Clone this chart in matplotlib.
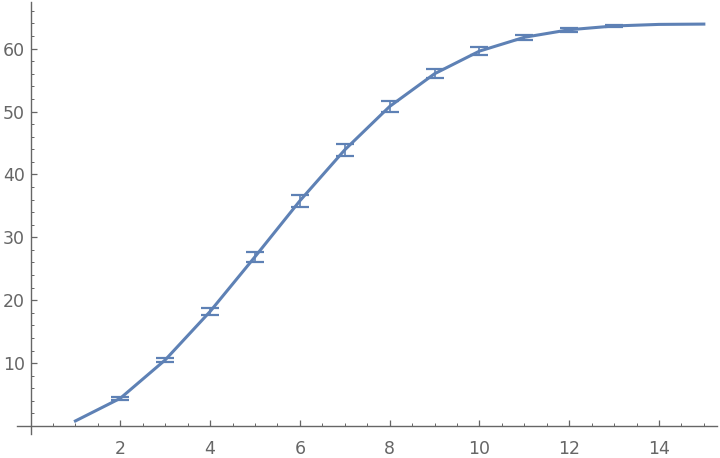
import numpy as np
import matplotlib.pyplot as plt

# values
x = [1, 2, 3, 4, 5, 6, 7, 8, 9, 10, 11, 12, 13, 14, 15]
y = [0.8, 4.4, 10.5, 18.2, 26.9, 35.8, 43.9, 50.8, 56.0, 59.6, 61.8, 63.0, 63.6, 63.85, 63.9]
err = [0, 0.2, 0.37, 0.6, 0.8, 1.0, 1.0, 0.9, 0.7, 0.58, 0.42, 0.3, 0.13, 0, 0]
xticks = [2, 4, 6, 8, 10, 12, 14]
yticks = [10, 20, 30, 40, 50, 60]

blue = '#5E81B5'
grey = '#666666'

fig = plt.figure(figsize=(7.2, 4.58), dpi=100)
ax = fig.add_axes([0, 0, 1, 1])

ax.plot(x, y, color=blue, lw=2.2, zorder=3)
# error bars only where they are visible
ex = [a for a, e in zip(x, err) if e > 0]
ey = [b for b, e in zip(y, err) if e > 0]
ee = [e for e in err if e > 0]
ax.errorbar(ex, ey, yerr=ee, fmt='none', ecolor=blue, elinewidth=1.2,
            capsize=6.5, capthick=1.6, zorder=3)

ax.set_xlim(-0.68, 15.36)
ax.set_ylim(-5.09, 67.73)

for s in ['top', 'right']:
    ax.spines[s].set_visible(False)
ax.spines['bottom'].set_position(('data', 0))
ax.spines['left'].set_position(('data', 0))
ax.spines['bottom'].set_bounds(-0.3, 15.29)
ax.spines['left'].set_bounds(-1.3, 67.4)
for s in ['bottom', 'left']:
    ax.spines[s].set_color(grey)
    ax.spines[s].set_linewidth(1.0)

ax.set_xticks(xticks)
ax.set_yticks(yticks)
ax.set_xticks(np.arange(0.5, 15.5, 0.5), minor=True)
ax.set_yticks(np.arange(2, 68, 2), minor=True)
ax.tick_params(which='major', direction='in', length=4, width=0.9, color=grey,
               labelcolor=grey, labelsize=12.5, pad=10)
ax.tick_params(which='minor', direction='in', length=2.2, width=0.7, color=grey)
ax.tick_params(axis='y', which='major', pad=4)

fig.savefig('out.png', dpi=100)
